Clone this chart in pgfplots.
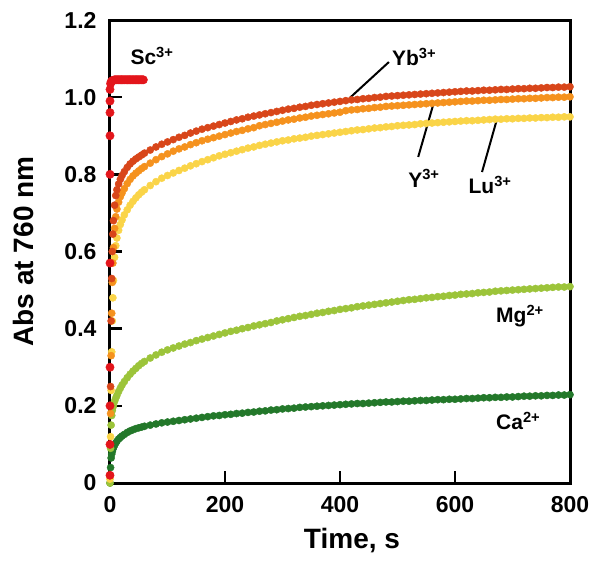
\documentclass[border=0pt]{standalone}
\usepackage{fontspec}
\setmainfont{Liberation Sans}
\usepackage{pgfplots}
\usepackage{pgfplotstable}
\pgfplotsset{compat=1.18}
\definecolor{cSc}{HTML}{E3151B}
\definecolor{cYb}{HTML}{D8461A}
\definecolor{cY}{HTML}{F5921E}
\definecolor{cLu}{HTML}{FAD448}
\definecolor{cMg}{HTML}{9CC43A}
\definecolor{cCa}{HTML}{23782A}
\pgfplotstableread{
t Yb Y Lu Mg Ca
0 0.02 0.02 0.01 0.00 0.00
1 0.25 0.18 0.12 0.09 0.04
2 0.42 0.33 0.24 0.15 0.065
3 0.53 0.44 0.34 0.175 0.075
4 0.60 0.52 0.42 0.188 0.082
5 0.645 0.57 0.48 0.196 0.088
6 0.68 0.61 0.525 0.202 0.092
8 0.72 0.66 0.585 0.212 0.098
10 0.745 0.69 0.615 0.22 0.104
12 0.76 0.71 0.635 0.227 0.108
15 0.775 0.728 0.655 0.237 0.114
18 0.787 0.742 0.67 0.246 0.118
21 0.797 0.752 0.682 0.254 0.122
25 0.807 0.763 0.695 0.263 0.126
30 0.818 0.776 0.708 0.273 0.131
35 0.827 0.787 0.72 0.282 0.135
40 0.834 0.796 0.73 0.29 0.138
45 0.84 0.803 0.739 0.297 0.141
50 0.845 0.809 0.747 0.304 0.143
55 0.85 0.815 0.754 0.31 0.145
60 0.855 0.82 0.76 0.315 0.147
70 0.863 0.829 0.771 0.324 0.150
80 0.871 0.838 0.781 0.332 0.153
90 0.878 0.846 0.79 0.339 0.156
100 0.884 0.853 0.797 0.345 0.158
110 0.890 0.860 0.8035 0.350 0.160
120 0.896 0.866 0.810 0.355 0.162
130 0.901 0.871 0.816 0.360 0.164
140 0.907 0.877 0.822 0.364 0.166
150 0.912 0.882 0.8275 0.369 0.168
160 0.917 0.887 0.833 0.373 0.170
170 0.921 0.891 0.838 0.377 0.172
180 0.925 0.895 0.843 0.381 0.174
190 0.929 0.899 0.848 0.385 0.175
200 0.933 0.903 0.852 0.389 0.177
210 0.937 0.907 0.856 0.393 0.178
220 0.941 0.911 0.860 0.396 0.180
230 0.944 0.914 0.864 0.400 0.181
240 0.948 0.918 0.868 0.403 0.183
250 0.951 0.921 0.871 0.407 0.184
260 0.954 0.926 0.875 0.410 0.186
270 0.957 0.929 0.878 0.413 0.187
280 0.960 0.932 0.881 0.416 0.189
290 0.963 0.935 0.884 0.420 0.190
300 0.966 0.938 0.887 0.423 0.192
310 0.969 0.941 0.889 0.426 0.193
320 0.971 0.943 0.892 0.429 0.194
330 0.974 0.946 0.894 0.432 0.196
340 0.976 0.948 0.896 0.434 0.197
350 0.979 0.951 0.899 0.437 0.198
360 0.981 0.953 0.901 0.440 0.199
370 0.983 0.955 0.903 0.442 0.200
380 0.985 0.957 0.905 0.445 0.201
390 0.987 0.959 0.907 0.447 0.202
400 0.989 0.961 0.909 0.450 0.203
410 0.991 0.965 0.911 0.452 0.204
420 0.993 0.967 0.913 0.454 0.205
430 0.994 0.968 0.915 0.457 0.206
440 0.996 0.970 0.916 0.459 0.206
450 0.997 0.971 0.918 0.461 0.207
460 0.999 0.973 0.920 0.463 0.208
470 1.000 0.974 0.921 0.465 0.209
480 1.002 0.976 0.923 0.467 0.210
490 1.003 0.977 0.924 0.469 0.210
500 1.004 0.978 0.926 0.471 0.211
510 1.005 0.979 0.927 0.473 0.212
520 1.006 0.980 0.928 0.475 0.212
530 1.007 0.981 0.929 0.476 0.213
540 1.008 0.982 0.931 0.478 0.214
550 1.009 0.983 0.932 0.480 0.214
560 1.010 0.984 0.933 0.481 0.215
570 1.011 0.985 0.934 0.483 0.216
580 1.012 0.986 0.935 0.484 0.216
590 1.013 0.987 0.936 0.486 0.217
600 1.014 0.988 0.937 0.487 0.217
610 1.015 0.989 0.938 0.489 0.218
620 1.016 0.990 0.939 0.490 0.219
630 1.016 0.990 0.939 0.491 0.219
640 1.017 0.991 0.940 0.493 0.220
650 1.018 0.992 0.941 0.494 0.221
660 1.018 0.992 0.942 0.495 0.221
670 1.019 0.993 0.943 0.497 0.222
680 1.020 0.994 0.943 0.498 0.222
690 1.020 0.994 0.944 0.499 0.223
700 1.021 0.995 0.944 0.500 0.223
710 1.022 0.996 0.945 0.501 0.224
720 1.022 0.996 0.945 0.502 0.225
730 1.023 0.997 0.946 0.503 0.225
740 1.023 0.997 0.946 0.504 0.226
750 1.024 0.998 0.947 0.505 0.226
760 1.025 0.999 0.947 0.506 0.227
770 1.025 0.999 0.948 0.507 0.227
780 1.026 1.000 0.948 0.508 0.228
790 1.026 1.000 0.949 0.508 0.228
800 1.027 1.001 0.949 0.509 0.229
}\data
\begin{document}
\begin{tikzpicture}
\begin{axis}[
  width=460pt, height=463pt, scale only axis,
  xmin=0, xmax=800, ymin=0, ymax=1.2,
  xtick={0,200,400,600,800}, xticklabels={0,200,400,600,800},
  ytick={0,0.2,0.4,0.6,0.8,1.0,1.2},
  yticklabels={0,0.2,0.4,0.6,0.8,1.0,1.2},
  tick pos=left, tick align=inside, major tick length=12pt,
  axis line style={line width=3pt},
  every tick/.style={black, line width=2.5pt},
  ticklabel style={font=\fontsize{23}{25}\selectfont\bfseries},
  xticklabel style={yshift=-10pt}, yticklabel style={xshift=-10pt},
  label style={font=\fontsize{28}{30}\selectfont\bfseries},
  xlabel={Time, s}, ylabel={Abs at 760 nm},
  xlabel style={at={(axis description cs:0.526,-0.125)}, anchor=center},
  ylabel style={at={(axis description cs:-0.189,0.5)}, anchor=center},
  clip=false,
  every axis plot/.append style={only marks, mark=*, mark size=3.6pt},
]
\addplot[cCa, mark options={draw=cCa, fill=cCa}] table[x=t, y=Ca] {\data};
\addplot[cMg, mark options={draw=cMg, fill=cMg}] table[x=t, y=Mg] {\data};
\addplot[cLu, mark options={draw=cLu, fill=cLu}] table[x=t, y=Lu] {\data};
\addplot[cY, mark options={draw=cY, fill=cY}] table[x=t, y=Y] {\data};
\addplot[cYb, mark options={draw=cYb, fill=cYb}] table[x=t, y=Yb] {\data};
\addplot[cSc, mark size=4.2pt, mark options={draw=cSc, fill=cSc}] coordinates {
 (0,0.02) (0,0.1) (0,0.2) (0,0.3) (0,0.57) (0,0.8) (0,0.9) (0,0.96) (0,0.99) (0,1.02)
 (1,1.035) (2,1.04) (4,1.043) (6,1.044) (8,1.045) (10,1.045) (12,1.045) (14,1.045)
 (16,1.045) (18,1.045) (20,1.045) (22,1.045) (24,1.045) (26,1.045) (28,1.045) (30,1.045)
 (32,1.045) (34,1.045) (36,1.045) (38,1.045) (40,1.045) (42,1.045) (44,1.045) (46,1.045)
 (48,1.045) (50,1.045) (52,1.045) (54,1.045) (56,1.045) (58,1.045)
};
\draw[line width=2pt] (axis cs:417,0.998) -- (axis cs:485,1.091);
\draw[line width=2pt] (axis cs:562,0.98) -- (axis cs:536,0.845);
\draw[line width=2pt] (axis cs:673,0.943) -- (axis cs:647,0.806);
\begin{scope}[every node/.style={font=\fontsize{21}{24}\selectfont\bfseries, inner sep=0pt}]
\node at (axis cs:73,1.107) {Sc\textsuperscript{3+}};
\node at (axis cs:529,1.104) {Yb\textsuperscript{3+}};
\node at (axis cs:546,0.790) {Y\textsuperscript{3+}};
\node at (axis cs:661,0.772) {Lu\textsuperscript{3+}};
\node at (axis cs:713,0.433) {Mg\textsuperscript{2+}};
\node at (axis cs:710,0.161) {Ca\textsuperscript{2+}};
\end{scope}
\end{axis}
\path ([shift={(-110pt,-83pt)}]current axis.south west) rectangle ++(602pt,566pt);
\end{tikzpicture}
\end{document}
